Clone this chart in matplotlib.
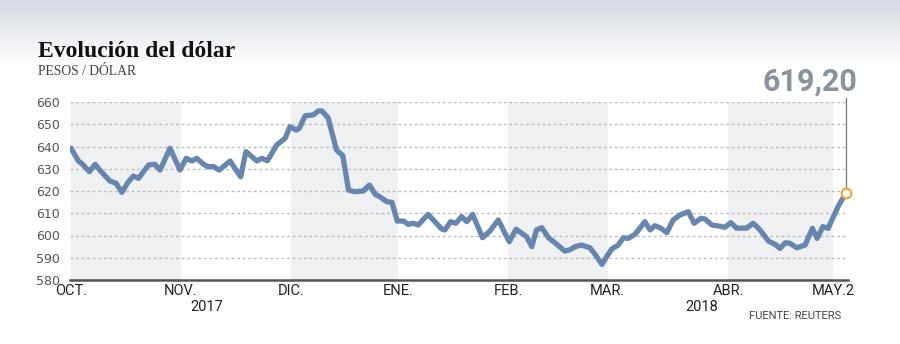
import numpy as np
import matplotlib.pyplot as plt
from matplotlib.colors import LinearSegmentedColormap

# datos: índice de día hábil (desde 1 oct 2017) y valor pesos/dólar
dias = [0, 1.4, 2.2, 3.5, 4.6, 5.5, 7.4, 8.6, 9.7, 10.9, 11.9, 12.9, 14.8, 16.0, 17.0,
        18.9, 20.8, 22.0, 23.1, 24.0, 25.3, 26.2, 27.2, 28.3, 30.4, 31.3, 32.4, 33.4,
        35.5, 36.4, 37.5, 39.3, 40.9, 41.8, 43.0, 43.6, 44.7, 46.3, 47.2, 47.9, 49.1,
        50.7, 51.9, 53.0, 54.2, 55.8, 57.0, 58.1, 59.0, 60.3, 61.3, 62.3, 63.5, 64.4,
        65.4, 66.3, 68.2, 69.5, 70.8, 71.4, 72.5, 73.5, 74.6, 75.6, 76.7, 78.6, 80.0,
        81.6, 83.7, 85.0, 87.0, 88.0, 88.9, 89.9, 91.2, 92.8, 94.3, 95.2, 96.3, 97.5,
        99.1, 100.1, 101.4, 102.3, 103.3, 104.5, 105.5, 106.4, 107.7, 109.6, 110.6,
        111.5, 112.5, 113.8, 115.0, 116.3, 117.9, 119.0, 120.3, 121.1, 122.4, 123.6,
        124.9, 126.0, 127.1, 129.0, 130.3, 131.6, 133.2, 134.5, 135.4, 136.4, 137.3,
        138.6, 140.2, 141.6, 142.5, 143.6, 144.6, 146.5, 148.0]
valores = [639.2, 633.5, 632.0, 628.7, 632.0, 629.4, 624.5, 623.5, 619.4, 624.0, 626.7,
           625.7, 631.7, 632.0, 629.4, 639.2, 629.4, 634.7, 633.5, 634.7, 632.0, 630.9,
           631.0, 629.4, 633.5, 630.2, 626.4, 637.7, 633.5, 634.7, 633.6, 640.7, 643.7,
           648.9, 647.4, 648.2, 653.8, 654.2, 656.0, 656.0, 652.9, 638.4, 635.9, 620.4,
           619.7, 620.0, 622.7, 618.5, 617.4, 615.2, 614.9, 606.5, 606.5, 605.0, 605.5,
           604.7, 609.5, 606.2, 602.9, 602.5, 606.2, 605.5, 608.5, 606.2, 609.5, 599.0,
           602.0, 607.0, 597.2, 602.8, 599.5, 595.0, 602.5, 603.5, 599.0, 596.0, 593.0,
           593.5, 595.0, 595.7, 594.5, 591.5, 587.0, 590.5, 594.0, 595.7, 599.0, 598.7,
           600.5, 606.2, 602.5, 604.4, 603.5, 601.3, 607.0, 609.2, 610.7, 605.5, 607.7,
           607.4, 604.7, 604.3, 603.7, 605.8, 603.3, 603.3, 605.5, 602.5, 597.5, 596.0,
           594.2, 596.7, 596.5, 594.5, 595.7, 603.2, 598.7, 604.0, 603.2, 613.0, 619.2]

meses = ["OCT.", "NOV.", "DIC.", "ENE.", "FEB.", "MAR.", "ABR.", "MAY.2"]
inicio_mes = [0, 21, 42, 62.5, 83.5, 102.5, 125.5, 145.5]
anios = ["2017", "2018"]
anio_pos = [26, 120.5]
ultimo = "619,20"

azul = "#6686b0"

fig = plt.figure(figsize=(9, 3.44), dpi=100)

# fondo degradado
bg = fig.add_axes([0, 0, 1, 1], zorder=-10)
grad = np.ones((344, 1))
grad[:65, 0] = np.linspace(0, 1, 65)
cmap = LinearSegmentedColormap.from_list("g", ["#d3dae3", "#ffffff"])
bg.imshow(grad, aspect="auto", cmap=cmap, extent=[0, 1, 0, 1], vmin=0, vmax=1)
bg.axis("off")

ax = fig.add_axes([70/900, 64/344, 778/900, 178/344])
ax.patch.set_alpha(0)
ax.set_xlim(-0.2, 148.4)
ax.set_ylim(580, 660)

# franjas de meses alternos
for i in range(0, len(inicio_mes) - 1, 2):
    ax.axvspan(inicio_mes[i], inicio_mes[i + 1], color="#eff0f2", lw=0, zorder=0)

for v in range(590, 661, 10):
    ax.axhline(v, color="#bdbdbd", lw=1, ls=(0, (2, 2)), zorder=1)

ax.plot(dias, valores, color=azul, lw=3.8, solid_joinstyle="round",
        solid_capstyle="round", zorder=3)

ax.plot([dias[-1], dias[-1]], [valores[-1], 661.8], color="#777777", lw=0.9,
        clip_on=False, zorder=2)
ax.plot(dias[-1], valores[-1], "o", ms=7, mfc="white", mec="#f0a53a", mew=1.6,
        clip_on=False, zorder=4)

for s in ["top", "right", "left"]:
    ax.spines[s].set_visible(False)
ax.spines["bottom"].set_color("#555555")
ax.spines["bottom"].set_linewidth(1.8)

ax.set_yticks(range(580, 661, 10))
ax.tick_params(axis="y", length=0, pad=7, labelsize=9, labelcolor="#555555")
for t in ax.get_yticklabels():
    t.set_family("DejaVu Sans")

ax.set_xticks(inicio_mes)
ax.set_xticklabels(meses, family="Roboto", fontsize=10.5, color="#222222")
ax.tick_params(axis="x", length=0, pad=3)

for a, p in zip(anios, anio_pos):
    ax.text(p, 567.8, a, ha="center", va="center", family="Roboto",
            fontsize=10.5, color="#222222")

fig.text(841/900, 1 - 316/344, "FUENTE: REUTERS", ha="right", va="center",
         family="Roboto", fontsize=8, color="#444444")

fig.text(38/900, 1 - 57/344, "Evolución del dólar", ha="left", va="baseline",
         family="Liberation Serif", fontweight="bold", fontsize=17, color="#111111")
fig.text(38/900, 1 - 75/344, "PESOS / DÓLAR", ha="left", va="baseline",
         family="Liberation Serif", fontsize=9.8, color="#444444")
fig.text(857/900, 1 - 91/344, ultimo, ha="right", va="baseline",
         family="Roboto", fontweight="bold", fontsize=22, color="#8a939c")

fig.savefig("out.png", dpi=100)
